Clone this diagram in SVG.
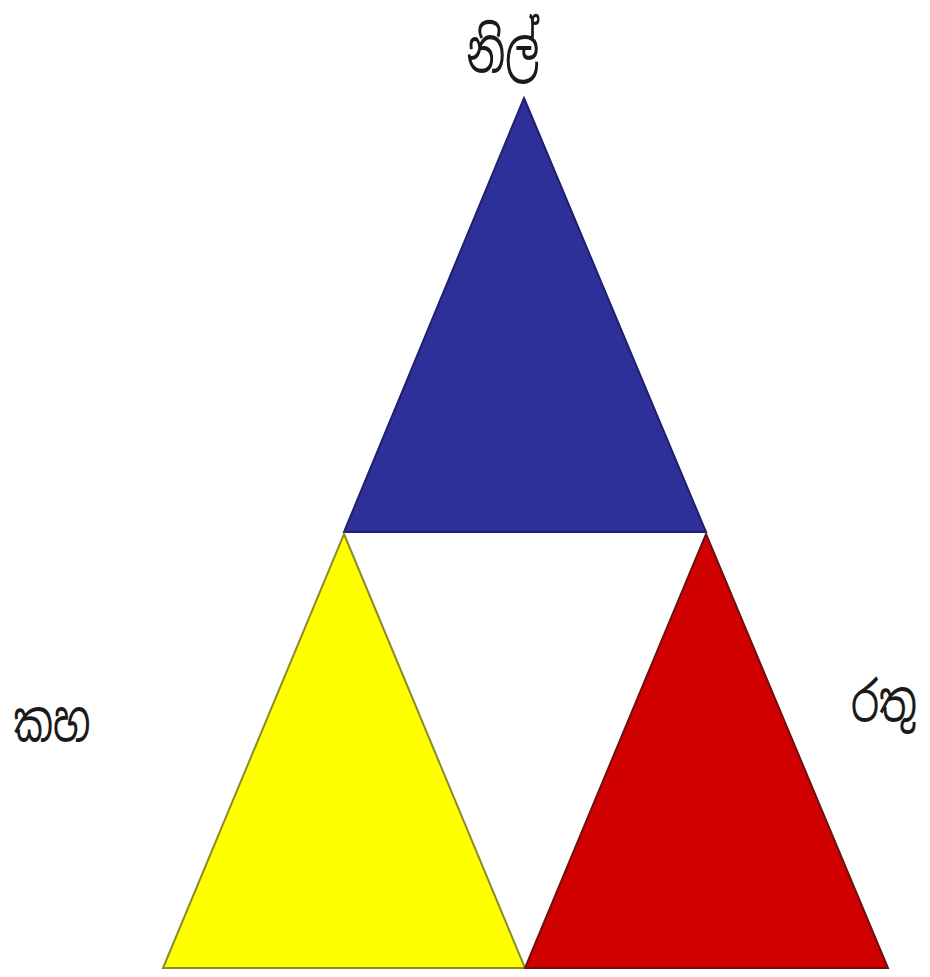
<svg xmlns="http://www.w3.org/2000/svg" width="930" height="977" viewBox="0 0 930 977">
<style>
.lbl{font-family:"Noto Sans Sinhala","Iskoola Pota","Noto Sans","DejaVu Sans",sans-serif;font-size:56px;fill:#1a1a1a;text-anchor:middle}
</style>
<rect width="930" height="977" fill="#ffffff"/>
<g id="blue">
<polygon points="524,98 706,532 344,532" fill="#2e3099" stroke="#1f1f6e" stroke-width="2"/>
<text class="lbl" x="503" y="72" style="font-size:60px" textLength="73" lengthAdjust="spacingAndGlyphs">නිල්</text>
</g>
<g id="yellow">
<polygon points="344,534 525,968 163,968" fill="#ffff00" stroke="#8c8a2a" stroke-width="2"/>
<text class="lbl" x="52" y="741" textLength="77" lengthAdjust="spacingAndGlyphs">කහ</text>
</g>
<g id="red">
<polygon points="706,534 888,968 525,968" fill="#d10000" stroke="#6e1010" stroke-width="2"/>
<text class="lbl" x="884" y="721" textLength="66" lengthAdjust="spacingAndGlyphs">රතු</text>
</g>
<g id="connectors"/>
</svg>
